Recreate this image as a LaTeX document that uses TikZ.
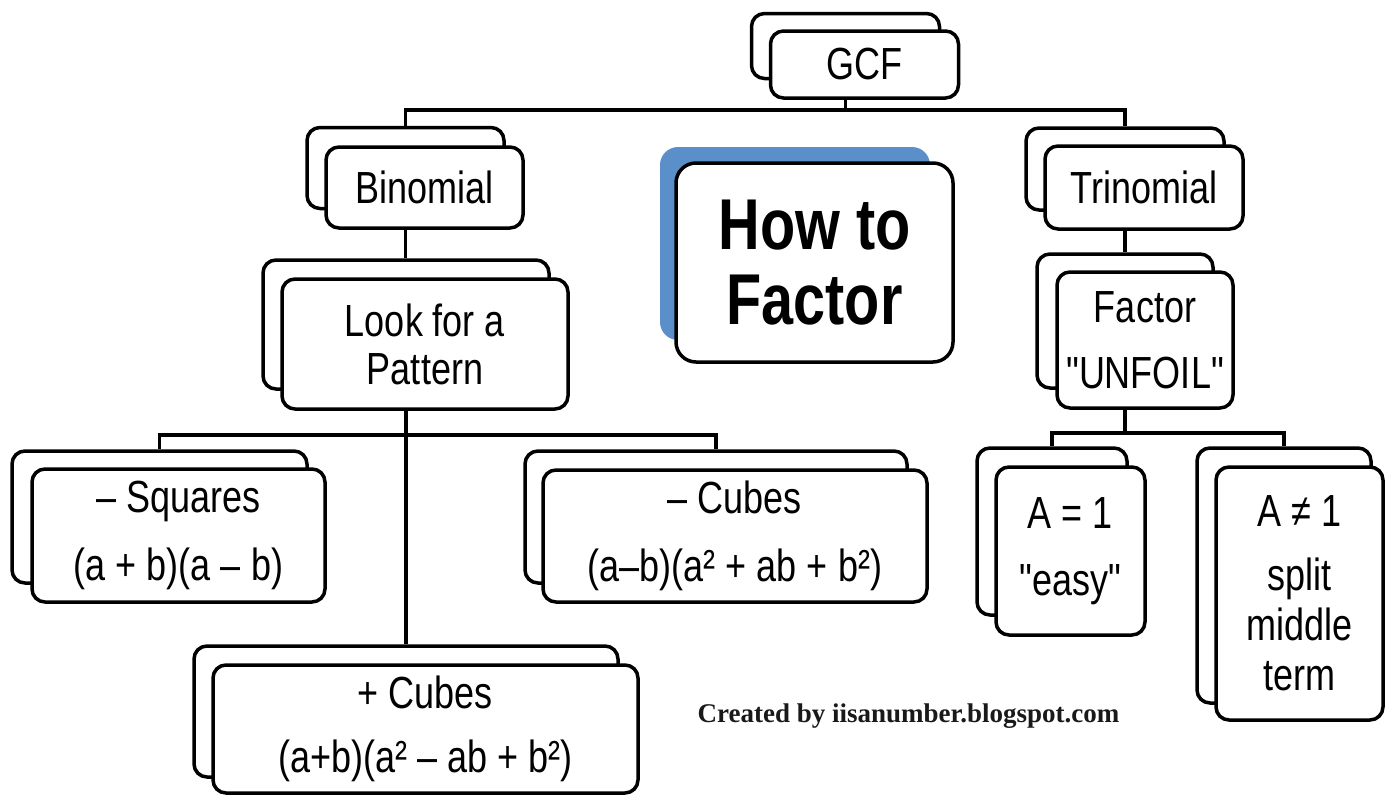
\documentclass[tikz,border=0pt]{standalone}
\usepackage{fontspec}
\setmainfont{Liberation Sans}[FakeStretch=0.8, Ligatures=TeXOff]
\newfontfamily\credfont{Liberation Serif}
\definecolor{factorblue}{HTML}{5B8FC9}
\newcommand\hwA{\fontsize{45}{68}\selectfont}
\newcommand\hwLook{\fontsize{45}{48}\selectfont}
\newcommand\hwBig{\bfseries\fontsize{72}{75}\selectfont}
\begin{document}
\begin{tikzpicture}[x=1pt,y=-1pt,
  bk/.style={draw=black, fill=white, line width=3.5pt, rounded corners=13pt, inner sep=0pt},
  fr/.style={bk, align=center, font=\hwA},
  conn/.style={draw=black, line width=3.5pt}]
\fill[white] (0,0) rectangle (1385,795);
\useasboundingbox (0,0) rectangle (1385,795);

% GCF
\node[bk, minimum width=188pt, minimum height=65pt] (gcfB) at (845.5,46) {};
\node[fr, minimum width=188pt, minimum height=67pt] (gcf) at (864.5,64.5) {GCF};

% Binomial
\node[bk, minimum width=197pt, minimum height=81pt] (binB) at (405.5,168) {};
\node[fr, minimum width=197pt, minimum height=81pt] (bin) at (424.5,187.5) {Binomial};

% Look for a Pattern
\node[bk, minimum width=286pt, minimum height=129pt] (lookB) at (406,324.5) {};
\node[fr, font=\hwLook, minimum width=286pt, minimum height=130pt] (look) at (425,344) {Look for a\\Pattern};

% - Squares
\node[bk, minimum width=295pt, minimum height=132pt] (sqB) at (159.5,517) {};
\node[fr, minimum width=293pt, minimum height=133pt] (sqr) at (178.5,535.5) {– Squares\\(a + b)(a – b)};

% - Cubes
\node[bk, minimum width=382pt, minimum height=132pt] (mcB) at (716,517) {};
\node[fr, minimum width=384pt, minimum height=132pt] (mc) at (735,536) {– Cubes\\(a–b)(a² + ab + b²)};

% + Cubes
\node[bk, minimum width=424pt, minimum height=131pt] (pcB) at (406,711.5) {};
\node[fr, font=\fontsize{45}{64}\selectfont, minimum width=425pt, minimum height=128pt] (pc) at (425.5,729) {+ Cubes\\(a+b)(a² – ab + b²)};

% How to Factor
\node[fill=factorblue, rounded corners=18pt, minimum width=270pt, minimum height=193pt, inner sep=0pt] (htfB) at (795,243.5) {};
\node[bk, rounded corners=20pt, align=center, font=\hwBig, minimum width=277pt, minimum height=199pt] (htf) at (814.5,262.5) {How to\\Factor};

% Trinomial
\node[bk, minimum width=198pt, minimum height=82pt] (triB) at (1125,169) {};
\node[fr, minimum width=198pt, minimum height=83pt] (tri) at (1144,187.5) {Trinomial};

% Factor UNFOIL
\node[bk, minimum width=176pt, minimum height=134pt] (facB) at (1125,321) {};
\node[fr, font=\fontsize{45}{66}\selectfont, minimum width=176pt, minimum height=136pt] (fac) at (1145,340) {Factor\\"UNFOIL"};

% A = 1
\node[bk, minimum width=150pt, minimum height=167pt] (aoneB) at (1052,531.5) {};
\node[fr, font=\fontsize{45}{67}\selectfont, minimum width=149pt, minimum height=168pt] (aone) at (1070.5,551) {A = 1\\"easy"};

% A ≠ 1
\node[bk, minimum width=174pt, minimum height=255pt] (anotB) at (1284,575.5) {};
\node[fr, font=\fontsize{45}{50}\selectfont, minimum width=167pt, minimum height=253pt] (anot) at (1299.5,593.5) {A ≠ 1\\[14pt]split\\middle\\term};

% connectors
\coordinate (jtop) at (845.5,110);
\coordinate (jlook) at (406,435);
\coordinate (jfac) at (1125,433);
\draw[conn] (gcf.south -| gcfB.center) -- (jtop);
\draw[conn] (binB.north) |- (jtop) -| (triB.north);
\draw[conn] (bin.south -| binB.center) -- (binB.center |- lookB.north);
\draw[conn] (look.south -| lookB.center) -- (lookB.center |- pcB.north);
\draw[conn] (sqB.north) |- (jlook) -| (mcB.north);
\draw[conn] (tri.south -| triB.center) -- (triB.center |- facB.north);
\draw[conn] (fac.south -| facB.center) -- (jfac);
\draw[conn] (aoneB.north) |- (jfac) -| (anotB.north);

% credit
\node[anchor=base, font=\credfont\bfseries\fontsize{27}{30}\selectfont, text=black!90] (credit) at (908.5,722) {Created by iisanumber.blogspot.com};
\end{tikzpicture}
\end{document}
